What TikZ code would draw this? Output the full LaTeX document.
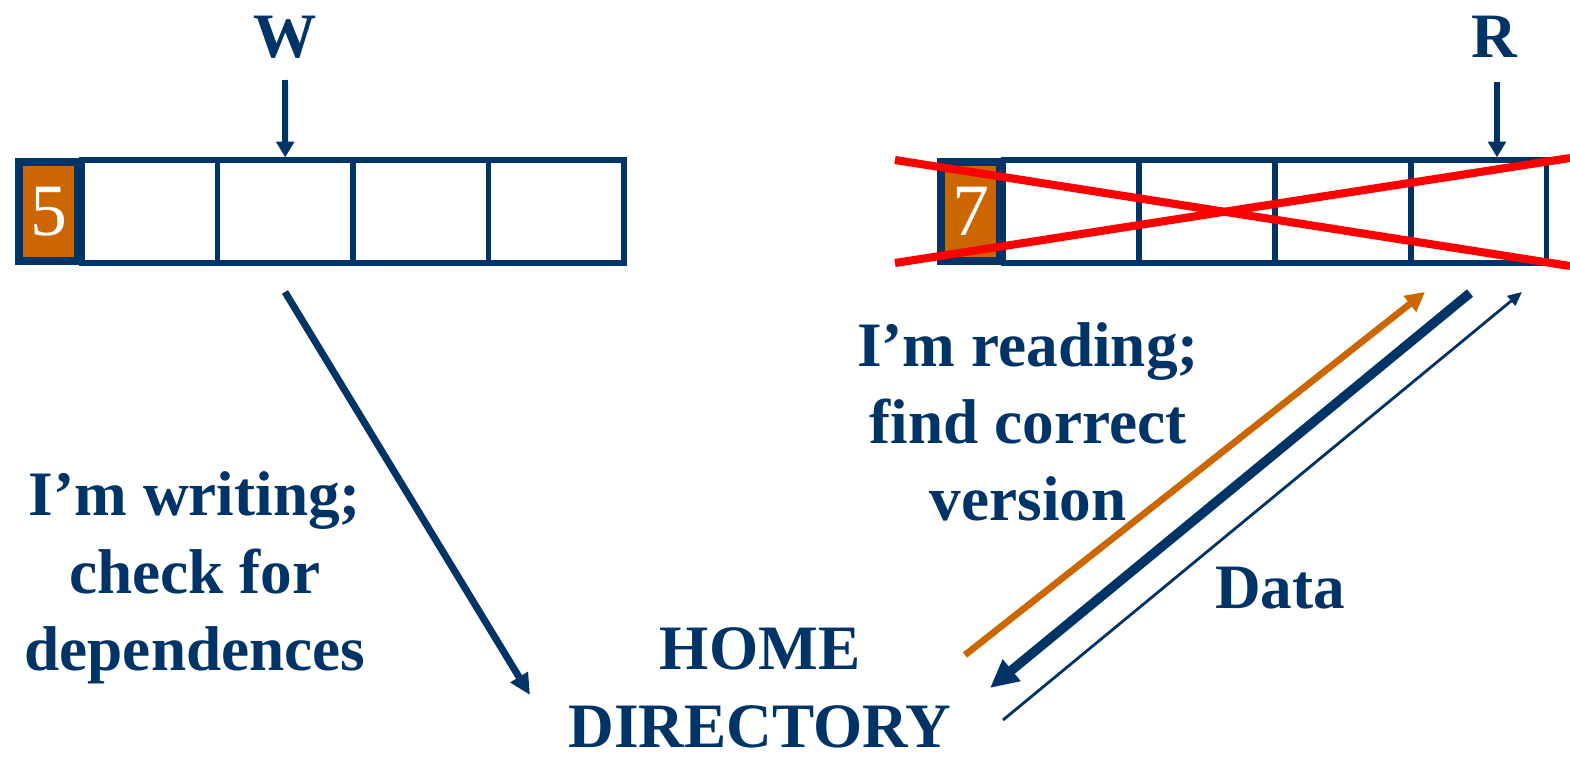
\documentclass[tikz,border=0pt]{standalone}
\usepackage{fontspec}
\setmainfont{Liberation Serif}
\usetikzlibrary{arrows.meta}
\definecolor{navy}{RGB}{0,51,102}
\definecolor{rust}{RGB}{204,102,0}
\tikzset{
  cell/.style={draw=navy, line width=1.5pt, minimum width=1.355cm, minimum height=1.03cm, inner sep=0pt},
  tag/.style={draw=navy, line width=2.4pt, fill=rust, minimum width=0.59cm, minimum height=0.99cm, inner sep=0pt, text=white, font=\fontsize{21}{21}\selectfont},
  lbl/.style={text=navy, align=center, font=\bfseries\fontsize{18}{22}\selectfont},
  ptr/.style={draw=navy, line width=1.7pt, -{Triangle[length=4.5pt,width=5pt]}},
  cross/.style={draw=red, line width=2.3pt}
}
\begin{document}
\begin{tikzpicture}
\useasboundingbox (0,0) rectangle (15.70,-7.56);
% writer's copy
\foreach \i in {1,...,4}
  \node[cell] (w\i) at ({0.82+1.355*\i-0.6775},-2.115) {};
\node[tag] (w0) at (0.485,-2.115) {5};
% reader's copy
\foreach \i in {1,...,4}
  \node[cell] (r\i) at ({10.03+1.36*\i-0.68},-2.115) {};
\node[tag] (r0) at (9.705,-2.115) {7};
% pointers
\node[lbl] (wlbl) at (2.85,-0.37) {W};
\node[lbl] (rlbl) at (14.94,-0.37) {R};
\coordinate (wtop) at (2.85,-0.80);
\coordinate (rtop) at (14.97,-0.82);
\draw[ptr] (wtop) -- (w2.north);
\draw[ptr] (rtop) -- (rtop |- r4.north);
% stale copy
\coordinate (x1) at (8.95,-1.60);
\coordinate (x2) at (15.70,-2.66);
\coordinate (x3) at (8.95,-2.63);
\coordinate (x4) at (15.70,-1.58);
\draw[cross] (x1) -- (x2);
\draw[cross] (x3) -- (x4);
% texts
\node[lbl] (writing) at (1.95,-5.78) {I'm writing;\\check for\\dependences};
\node[lbl] (reading) at (10.28,-4.22) {I'm reading;\\find correct\\version};
\node[lbl] (data) at (12.80,-5.88) {Data};
\node[lbl, inner sep=1pt] (home) at (7.60,-6.88) {HOME\\DIRECTORY};
% messages
\coordinate (wa) at (2.85,-2.92);
\coordinate (wb) at (5.30,-6.95);
\coordinate (oa) at (9.65,-6.55);
\coordinate (ob) at (14.25,-2.92);
\coordinate (na) at (14.70,-2.93);
\coordinate (nb) at (9.90,-6.88);
\coordinate (da) at (10.03,-7.20);
\coordinate (db) at (15.22,-2.92);
\draw[ptr, line width=2pt, -{Triangle[length=6pt,width=5.5pt]}] (wa) -- (wb);
\draw[ptr, draw=rust, line width=1.9pt, -{Triangle[length=5.5pt,width=5.5pt]}] (oa) -- (ob);
\draw[ptr, line width=2.7pt, -{Triangle[length=8pt,width=7.5pt]}] (na) -- (nb);
\draw[ptr, line width=0.8pt, -{Triangle[length=4pt,width=3.5pt]}] (da) -- (db);
\end{tikzpicture}
\end{document}
